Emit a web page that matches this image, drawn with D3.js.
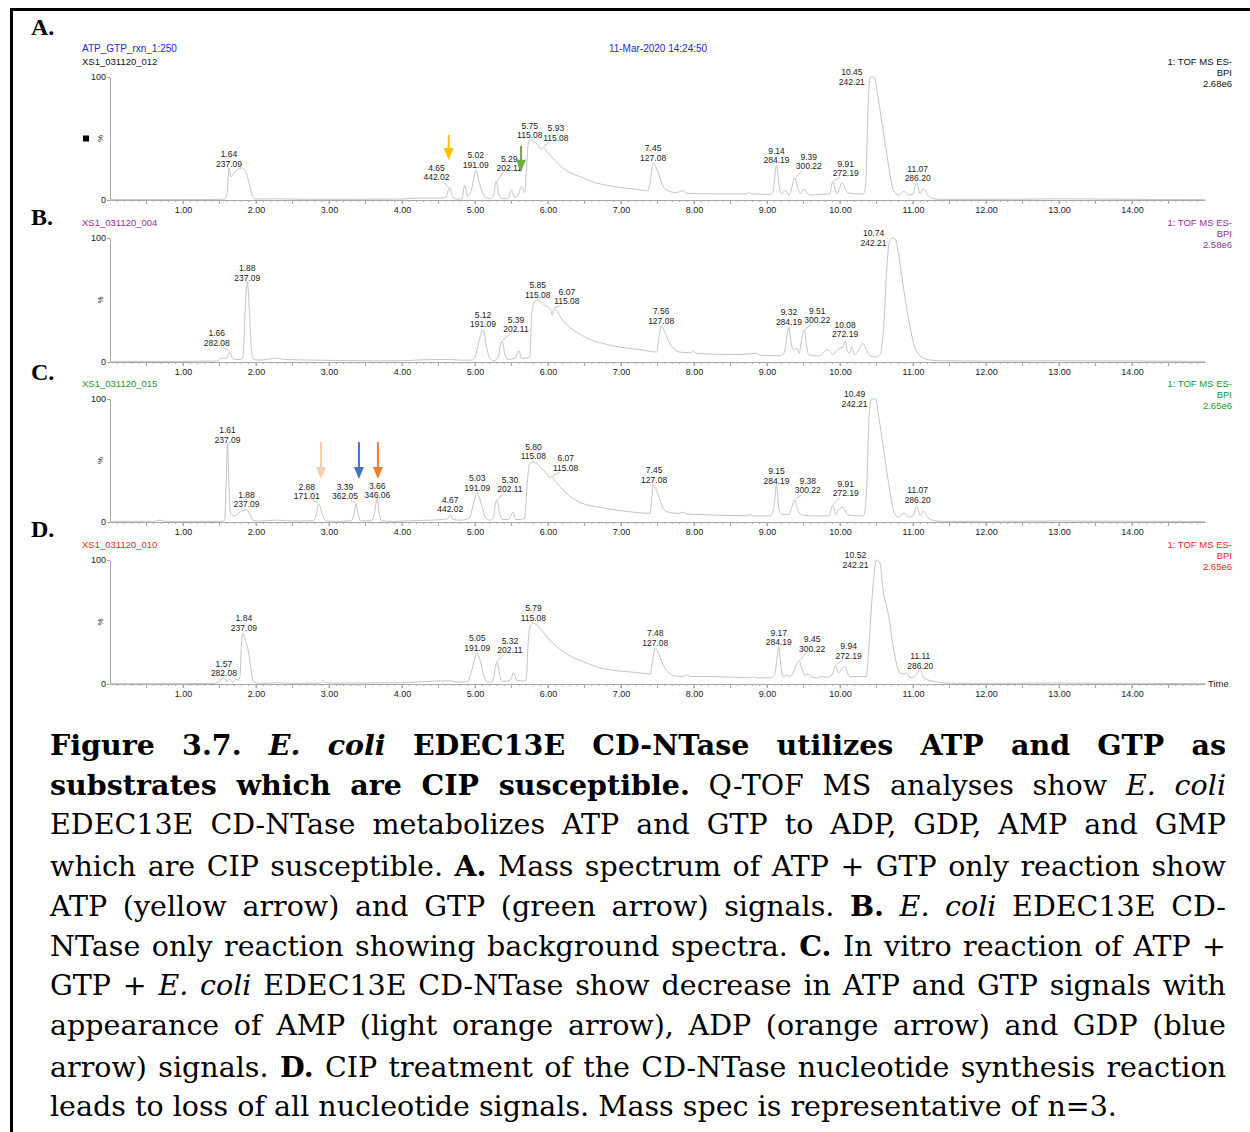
<!DOCTYPE html>
<html>
<head>
<meta charset="utf-8">
<script src="https://cdn.jsdelivr.net/npm/d3@7"></script>
<style>
  body { margin: 0; background: #fff; }
  #wrap { position: relative; width: 1250px; height: 1132px; overflow: hidden; background: #fff; }
  #wrap svg { position: absolute; left: 0; top: 0; z-index: 1; }
  #caption {
    position: absolute; left: 50px; top: 725px; width: 1176px; z-index: 2;
    font-family: "DejaVu Serif", "Liberation Serif", serif;
    font-size: 29px; line-height: 40.2px; color: #000;
  }
  #caption div { height: 40.2px; white-space: nowrap; text-align: left; text-align-last: left; }
  #caption div.just { text-align: justify; text-align-last: justify; }
</style>
</head>
<body>
<div id="wrap"><div id="caption"></div></div>
<script>
// Q-TOF MS base peak chromatograms, four runs (A-D) + figure caption

const timeTicks = [1, 2, 3, 4, 5, 6, 7, 8, 9, 10, 11, 12, 13, 14];
const panelLetters = ['A.', 'B.', 'C.', 'D.'];
const sampleNames = ['XS1_031120_012', 'XS1_031120_004', 'XS1_031120_015', 'XS1_031120_010'];
const scanMode = ['1: TOF MS ES-', 'BPI'];
const intensityMax = ['2.68e6', '2.58e6', '2.65e6', '2.65e6'];
const runTitle = 'ATP_GTP_rxn_1:250';
const runDate = '11-Mar-2020 14:24:50';

// traces: [retention time (min), relative intensity %]
const traceA = [[0,0.3],[1.0,0.3],[1.5,0.5],[1.58,1],[1.61,8],[1.63,26],[1.66,19],[1.70,22],[1.80,26],[1.86,23],[1.92,10],[1.96,2],[2.0,0.8],[2.3,1],[2.6,0.6],[3.0,0.5],[3.5,0.6],[4.0,0.8],[4.2,1.5],[4.5,1.5],[4.6,2],[4.65,10],[4.70,2],[4.78,0.5],[4.82,1],[4.86,12],[4.9,3],[4.95,8],[5.01,24],[5.07,12],[5.14,2],[5.2,1],[5.25,3],[5.29,15],[5.33,4],[5.38,1],[5.45,1.5],[5.5,8],[5.54,2],[5.58,3],[5.64,11],[5.68,6],[5.70,20],[5.73,46],[5.75,49],[5.80,48],[5.86,45],[5.91,41],[5.93,43],[6.0,38],[6.07,34],[6.2,26],[6.35,21],[6.48,18],[6.65,14],[6.8,12],[7.0,10],[7.17,9],[7.37,7.5],[7.40,15],[7.44,30],[7.50,24],[7.57,12],[7.63,8],[7.75,6],[7.85,7.5],[7.9,5.5],[8.2,5],[8.72,5],[8.75,6],[8.8,5],[9.04,4.5],[9.08,6],[9.13,28],[9.17,10],[9.2,5],[9.25,8],[9.3,4],[9.34,10],[9.38,18],[9.42,10],[9.46,5],[9.5,9],[9.56,5],[9.63,4],[9.7,4.5],[9.86,5],[9.9,15],[9.96,5],[10.03,14],[10.1,6],[10.2,5],[10.32,5],[10.35,12],[10.39,84],[10.41,100],[10.47,100],[10.52,84],[10.59,57],[10.66,30],[10.73,8],[10.8,4],[10.88,7],[10.94,4],[11.0,5],[11.05,14],[11.1,5],[11.14,9],[11.2,4],[11.26,1.5],[11.35,0.5],[12.0,0.5],[12.5,0.6],[13.0,1],[13.5,0.8],[14.0,0.5],[15.0,0.3]];
const traceB = [[0,0.5],[1.0,0.5],[1.48,0.8],[1.51,3],[1.58,3],[1.61,4],[1.64,8],[1.68,3],[1.72,2],[1.78,2],[1.82,4],[1.85,40],[1.88,65],[1.91,40],[1.94,8],[1.97,2],[2.05,1.5],[2.2,2.5],[2.28,3],[2.4,2],[2.8,1.5],[3.5,1],[4.0,1],[4.2,1.5],[4.5,2],[4.65,2],[4.8,1.5],[4.95,1.5],[5.0,4],[5.06,18],[5.11,26],[5.16,12],[5.2,3],[5.26,1],[5.32,4],[5.35,14],[5.37,17],[5.41,6],[5.45,2],[5.55,3],[5.6,9],[5.64,3],[5.7,3],[5.75,4],[5.78,40],[5.82,49],[5.86,50],[5.95,46],[6.03,43],[6.06,38],[6.08,43],[6.2,34],[6.34,26],[6.45,22],[6.58,18],[6.75,15],[6.9,13],[7.1,11],[7.26,10],[7.49,8],[7.52,20],[7.55,29],[7.6,24],[7.66,16],[7.72,11],[7.8,8],[7.95,7.5],[7.99,9],[8.03,7],[8.2,6.5],[8.5,6],[8.63,6],[8.86,7],[8.9,5.5],[9.18,5],[9.24,8],[9.28,24],[9.30,28],[9.33,16],[9.36,10],[9.41,11],[9.44,7],[9.48,20],[9.51,26],[9.54,14],[9.57,6],[9.65,5],[9.72,5],[9.78,8],[9.82,10],[9.87,8],[9.9,6],[9.95,9],[9.99,11],[10.04,12],[10.07,17],[10.1,9],[10.13,7],[10.16,12],[10.2,6],[10.26,10],[10.31,15],[10.36,10],[10.41,5],[10.5,4],[10.55,6],[10.60,30],[10.64,75],[10.68,98],[10.72,100],[10.76,99],[10.8,88],[10.85,68],[10.9,48],[10.96,28],[11.02,13],[11.08,6],[11.15,3],[11.25,1.5],[11.4,1],[12,0.7],[13,1],[14,0.8],[15,0.5]];
const traceC = [[0,0.5],[0.6,0.6],[0.68,1.5],[0.75,0.5],[1.5,0.5],[1.57,1],[1.59,30],[1.61,64],[1.63,30],[1.65,7],[1.70,5],[1.78,8],[1.87,10],[1.92,6],[1.96,1.5],[2.05,0.8],[2.28,1.5],[2.5,0.8],[2.78,1],[2.82,5],[2.86,15],[2.9,8],[2.95,1],[3.1,0.5],[3.3,1],[3.34,5],[3.37,15],[3.4,6],[3.44,1],[3.58,1],[3.62,6],[3.66,19],[3.69,6],[3.72,1],[3.9,0.5],[4.1,1],[4.4,1.5],[4.55,2],[4.62,2.5],[4.66,6],[4.7,2],[4.8,1.5],[4.92,3],[4.98,15],[5.03,24],[5.08,16],[5.14,4],[5.2,1.5],[5.25,3],[5.28,15],[5.30,18],[5.34,6],[5.38,2],[5.46,2],[5.52,8],[5.56,2],[5.62,2],[5.68,3],[5.72,35],[5.75,48],[5.80,49],[5.89,45],[5.97,40],[6.03,36],[6.05,37],[6.1,33],[6.16,29],[6.3,21],[6.4,17],[6.53,14],[6.7,12],[6.9,10],[7.17,8],[7.4,7],[7.42,18],[7.44,30],[7.5,24],[7.57,12],[7.65,8],[7.8,7],[7.85,8],[7.9,6.5],[8.12,6],[8.72,5],[8.76,6],[8.8,5],[9.04,5],[9.09,10],[9.13,30],[9.16,12],[9.2,6],[9.3,6],[9.34,12],[9.38,18],[9.42,10],[9.47,6],[9.6,5],[9.73,5],[9.85,5],[9.9,14],[9.94,6],[9.98,10],[10.04,12],[10.1,6],[10.2,5],[10.32,5],[10.36,20],[10.40,88],[10.43,100],[10.49,100],[10.53,86],[10.6,58],[10.67,30],[10.74,8],[10.8,4],[10.88,7],[10.94,4],[11.0,5],[11.05,13],[11.1,5],[11.14,9],[11.2,4],[11.27,1.5],[11.4,0.5],[12,0.5],[13,0.8],[14,0.6],[15,0.4]];
const traceD = [[0,0.3],[1.0,0.3],[1.45,0.5],[1.51,3],[1.56,5],[1.6,2],[1.64,4],[1.68,1.5],[1.72,4],[1.76,3],[1.78,6],[1.80,30],[1.82,41],[1.86,34],[1.9,25],[1.93,12],[1.96,2],[2.05,0.5],[2.28,1],[2.5,0.5],[2.88,0.8],[2.92,3],[2.96,0.8],[3.5,0.8],[4.0,1],[4.2,1.5],[4.52,2.5],[4.65,2.5],[4.75,1.5],[4.9,2],[4.96,12],[5.03,25],[5.08,17],[5.13,5],[5.18,1.5],[5.24,2],[5.28,14],[5.30,18],[5.34,7],[5.38,2],[5.48,3],[5.53,9],[5.57,3],[5.66,2.5],[5.7,3],[5.73,35],[5.75,46],[5.8,49],[5.89,45],[5.96,40],[6.03,35],[6.1,31],[6.21,26],[6.32,22],[6.44,19],[6.57,16],[6.71,13],[6.9,11],[7.08,10],[7.25,9],[7.4,8],[7.43,18],[7.47,29],[7.52,24],[7.58,15],[7.64,10],[7.71,7],[7.85,6],[7.9,7.5],[7.95,6],[8.18,6],[8.5,5.5],[8.77,5],[8.8,6],[8.85,5],[9.04,5],[9.1,7],[9.14,22],[9.16,30],[9.19,15],[9.22,6],[9.27,7],[9.32,6],[9.38,12],[9.44,19],[9.48,12],[9.52,7],[9.56,8],[9.6,6],[9.68,5],[9.75,6],[9.8,5.5],[9.86,6],[9.91,10],[9.94,15],[9.98,9],[10.02,12],[10.07,14],[10.11,8],[10.14,6],[10.3,6],[10.36,6],[10.39,25],[10.44,70],[10.48,95],[10.5,100],[10.55,97],[10.59,76],[10.66,57],[10.73,30],[10.78,15],[10.82,9],[10.88,8],[10.92,9],[10.96,5],[11.02,6],[11.07,10],[11.1,11],[11.15,5],[11.22,3],[11.3,2],[11.4,1],[11.6,0.5],[12,0.5],[13,0.8],[14,0.5],[15,0.3]];

// peak annotations: [rt label, m/z label, peak time, peak %]
const peaksA = [['1.64','237.09',1.63,26],['4.65','442.02',4.65,10],['5.02','191.09',5.01,24],['5.29','202.11',5.29,15],['5.75','115.08',5.75,49],['5.93','115.08',5.93,43],['7.45','127.08',7.44,30],['9.14','284.19',9.13,28],['9.39','300.22',9.38,18],['9.91','272.19',9.90,15],['10.45','242.21',10.45,100],['11.07','286.20',11.05,14]];
const peaksB = [['1.66','282.08',1.64,8],['1.88','237.09',1.88,65],['5.12','191.09',5.11,26],['5.39','202.11',5.37,17],['5.85','115.08',5.86,50],['6.07','115.08',6.08,43],['7.56','127.08',7.55,29],['9.32','284.19',9.30,28],['9.51','300.22',9.51,26],['10.08','272.19',10.07,17],['10.74','242.21',10.72,100]];
const peaksC = [['1.61','237.09',1.61,64],['1.88','237.09',1.87,10],['2.88','171.01',2.86,15],['3.39','362.05',3.37,15],['3.66','346.06',3.66,19],['4.67','442.02',4.66,6],['5.03','191.09',5.03,24],['5.30','202.11',5.30,18],['5.80','115.08',5.80,49],['6.07','115.08',6.05,37],['7.45','127.08',7.44,30],['9.15','284.19',9.13,30],['9.38','300.22',9.38,18],['9.91','272.19',9.90,14],['10.49','242.21',10.46,100],['11.07','286.20',11.05,13]];
const peaksD = [['1.57','282.08',1.56,5],['1.84','237.09',1.82,41],['5.05','191.09',5.03,25],['5.32','202.11',5.30,18],['5.79','115.08',5.80,49],['7.48','127.08',7.47,29],['9.17','284.19',9.16,30],['9.45','300.22',9.44,19],['9.94','272.19',9.94,15],['10.52','242.21',10.50,100],['11.11','286.20',11.10,11]];

// arrows: [time, tail %, tip %]
const arrowsA = [[4.64, 53, 32.5], [5.63, 44, 23]];
const arrowsC = [[2.89, 65, 35], [3.41, 65, 35], [3.67, 65, 35]];

const captionLines = [
  '<b>Figure 3.7. <i>E. coli</i> EDEC13E CD-NTase utilizes ATP and GTP as</b>',
  '<b>substrates which are CIP susceptible.</b> Q-TOF MS analyses show <i>E. coli</i>',
  'EDEC13E CD-NTase metabolizes ATP and GTP to ADP, GDP, AMP and GMP',
  'which are CIP susceptible. <b>A.</b> Mass spectrum of ATP + GTP only reaction show',
  'ATP (yellow arrow) and GTP (green arrow) signals. <b>B.</b> <i>E. coli</i> EDEC13E CD-',
  'NTase only reaction showing background spectra. <b>C.</b> In vitro reaction of ATP +',
  'GTP + <i>E. coli</i> EDEC13E CD-NTase show decrease in ATP and GTP signals with',
  'appearance of AMP (light orange arrow), ADP (orange arrow) and GDP (blue',
  'arrow) signals. <b>D.</b> CIP treatment of the CD-NTase nucleotide synthesis reaction',
  'leads to loss of all nucleotide signals. Mass spec is representative of n=3.'
];

// ---- layout / styling (pixels) ----
const W = 1250, H = 1132;
const xLeft = 110, xRight = 1205;
const panelTop = [77, 238, 399, 560];
const panelBottom = [200, 362, 522, 684];
const letterBaseline = [35, 225, 380, 537];
const nameColors = ['#111', '#9b2d9b', '#22992a', '#ff2222'];
const arrowColorsA = ['#ffc000', '#70ad47'];
const arrowColorsC = ['#f8cbad', '#4472c4', '#ed7d31'];
const traceColor = '#c4c4c4';
const axisColor = '#a8a8a8';
const sansFont = '"Liberation Sans", Arial, sans-serif';
const captionWidth = 1176;
const lastLineWidth = 1067;

// label offsets [dx, dy] from the peak apex to centre of the first label line
const offsetsA = [[0,-14],[-13,-20],[0,-15],[13,-23],[0,-14],[13,-19],[0,-15],[0,-15],[14,-21],[13,-18],[-21,-5],[1,-14]];
const offsetsB = [[-13,-19],[0,-13],[0,-15],[14,-21],[0,-15],[13,-17],[0,-15],[0,-15],[13,-19],[0,-16],[-19,-5]];
const offsetsC = [[0,-13],[0,-15],[-12,-17],[-11,-17],[0,-13],[0,-15],[0,-14],[13,-20],[0,-15],[14,-18],[1,-15],[0,-14],[13,-19],[13,-21],[-19,-5],[1,-16]];
const offsetsD = [[0,-14],[1,-15],[0,-15],[13,-21],[0,-15],[0,-15],[0,-14],[13,-21],[13,-19],[-21,-5],[0,-14]];

const panels = [
  { trace: traceA, peaks: peaksA, offsets: offsetsA, arrows: arrowsA, arrowColors: arrowColorsA },
  { trace: traceB, peaks: peaksB, offsets: offsetsB, arrows: [], arrowColors: [] },
  { trace: traceC, peaks: peaksC, offsets: offsetsC, arrows: arrowsC, arrowColors: arrowColorsC },
  { trace: traceD, peaks: peaksD, offsets: offsetsD, arrows: [], arrowColors: [] }
];

const svg = d3.select('#wrap').append('svg')
  .attr('width', W)
  .attr('height', H);

// frame (top + left only)
svg.append('rect').attr('x', 10).attr('y', 8).attr('width', W - 10).attr('height', 3).attr('fill', '#000');
svg.append('rect').attr('x', 10).attr('y', 8).attr('width', 3).attr('height', H - 8).attr('fill', '#000');

const x = d3.scaleLinear().domain([0, 15]).range([xLeft, xRight]);

// header of the first run
svg.append('text')
  .attr('x', 82).attr('y', 52)
  .attr('font-family', sansFont).attr('font-size', 10)
  .attr('fill', '#2424e8')
  .text(runTitle);
svg.append('text')
  .attr('x', 658).attr('y', 52)
  .attr('text-anchor', 'middle')
  .attr('font-family', sansFont).attr('font-size', 10)
  .attr('fill', '#2424e8')
  .text(runDate);

const minorTicks = d3.range(1, 150).map(k => k / 10);

panels.forEach((p, i) => {
  const y = d3.scaleLinear().domain([0, 100]).range([panelBottom[i], panelTop[i]]);
  const g = svg.append('g').attr('class', 'panel-' + i);
  const color = nameColors[i];

  // panel letter
  g.append('text')
    .attr('x', 31).attr('y', letterBaseline[i])
    .attr('font-family', '"Liberation Serif", serif')
    .attr('font-weight', 'bold')
    .attr('font-size', 24)
    .attr('fill', '#000')
    .text(panelLetters[i]);

  // sample name
  g.append('text')
    .attr('x', 82).attr('y', y(100) - 12)
    .attr('font-family', sansFont).attr('font-size', 9.5)
    .attr('fill', color)
    .text(sampleNames[i]);

  // acquisition info block (right)
  const info = scanMode.concat([intensityMax[i]]);
  g.selectAll('text.info')
    .data(info)
    .join('text')
    .attr('class', 'info')
    .attr('x', 1232)
    .attr('y', (d, k) => y(100) - 12 + k * 11)
    .attr('text-anchor', 'end')
    .attr('font-family', sansFont).attr('font-size', 9.5)
    .attr('fill', color)
    .text(d => d);

  // minor x ticks
  g.append('g')
    .selectAll('line')
    .data(minorTicks)
    .join('line')
    .attr('x1', d => x(d)).attr('x2', d => x(d))
    .attr('y1', y(0))
    .attr('y2', d => y(0) + (Math.round(d * 10) % 5 === 0 ? 4 : 2))
    .attr('stroke', axisColor)
    .attr('stroke-width', 1);

  // x axis
  const xAxis = g.append('g')
    .attr('transform', `translate(0,${y(0)})`)
    .call(d3.axisBottom(x)
      .tickValues(timeTicks)
      .tickFormat(d3.format('.2f'))
      .tickSize(4)
      .tickSizeOuter(0)
      .tickPadding(3));
  xAxis.select('.domain').attr('stroke', axisColor);
  xAxis.selectAll('.tick line').attr('stroke', axisColor);
  xAxis.selectAll('.tick text')
    .attr('font-family', sansFont).attr('font-size', 9)
    .attr('fill', '#222');

  // y axis
  const yAxis = g.append('g')
    .attr('transform', `translate(${xLeft},0)`)
    .call(d3.axisLeft(y)
      .tickValues([0, 100])
      .tickSize(3)
      .tickSizeOuter(0)
      .tickPadding(1));
  yAxis.select('.domain').attr('stroke', axisColor);
  yAxis.selectAll('.tick line').attr('stroke', axisColor);
  yAxis.selectAll('.tick text')
    .attr('font-family', sansFont).attr('font-size', 9)
    .attr('fill', '#222');

  g.append('text')
    .attr('transform', `translate(${xLeft - 7},${(y(0) + y(100)) / 2}) rotate(-90)`)
    .attr('text-anchor', 'middle')
    .attr('font-family', sansFont).attr('font-size', 8)
    .attr('fill', '#222')
    .text('%');

  // chromatogram trace
  const line = d3.line()
    .x(d => x(d[0]))
    .y(d => y(d[1]))
    .curve(d3.curveMonotoneX);

  g.append('path')
    .datum(p.trace)
    .attr('d', line)
    .attr('fill', 'none')
    .attr('stroke', traceColor)
    .attr('stroke-width', 1);

  // peak labels
  p.peaks.forEach((pk, k) => {
    const px = x(pk[2]), py = y(pk[3]);
    const [dx, dy] = p.offsets[k];
    const lx = px + dx, ly = py + dy;
    if (Math.abs(dx) > 6 && dy < -10) {
      const s = dx > 0 ? 1 : -1;
      g.append('line')
        .attr('x1', px + s).attr('y1', py - 1)
        .attr('x2', lx - s * 6).attr('y2', ly + 14)
        .attr('stroke', traceColor)
        .attr('stroke-width', 1);
    }
    const t = g.append('text')
      .attr('text-anchor', 'middle')
      .attr('font-family', sansFont).attr('font-size', 8.5)
      .attr('fill', '#222');
    t.append('tspan').attr('x', lx).attr('y', ly + 3).text(pk[0]);
    t.append('tspan').attr('x', lx).attr('y', ly + 12.5).text(pk[1]);
  });

  // coloured arrows
  p.arrows.forEach((a, k) => {
    const ax = x(a[0]), yTail = y(a[1]), yTip = y(a[2]);
    g.append('line')
      .attr('x1', ax).attr('x2', ax)
      .attr('y1', yTail).attr('y2', yTip - 10)
      .attr('stroke', p.arrowColors[k])
      .attr('stroke-width', 2);
    g.append('path')
      .attr('d', `M${ax - 5},${yTip - 12}L${ax + 5},${yTip - 12}L${ax},${yTip}Z`)
      .attr('fill', p.arrowColors[k]);
  });

  if (i === 0) {
    g.append('rect')
      .attr('x', 83).attr('y', (y(0) + y(100)) / 2 - 3)
      .attr('width', 6).attr('height', 6)
      .attr('fill', '#000');
  }
  if (i === 3) {
    g.append('text')
      .attr('x', 1208).attr('y', y(0) + 3)
      .attr('font-family', sansFont).attr('font-size', 9.5)
      .attr('fill', '#222')
      .text('Time');
  }
});

// caption: justified lines, font sized so the (ragged) last line matches
const caption = d3.select('#caption');
const rows = caption.selectAll('div')
  .data(captionLines)
  .join('div')
  .html(d => '<span>' + d + '</span>');

const lastSpan = rows.filter((d, k) => k === captionLines.length - 1).select('span').node();
const baseSize = 29;
const fitSize = baseSize * lastLineWidth / lastSpan.getBoundingClientRect().width;
caption.style('font-size', fitSize.toFixed(2) + 'px');

rows.each(function(d, k) {
  const span = d3.select(this).select('span').node();
  const w = span.getBoundingClientRect().width;
  const n = span.textContent.length;
  if (w > captionWidth - 4) {
    d3.select(this).style('letter-spacing', ((captionWidth - 4 - w) / n).toFixed(3) + 'px');
  }
  if (k < captionLines.length - 1) d3.select(this).classed('just', true);
});
</script>
</body>
</html>
